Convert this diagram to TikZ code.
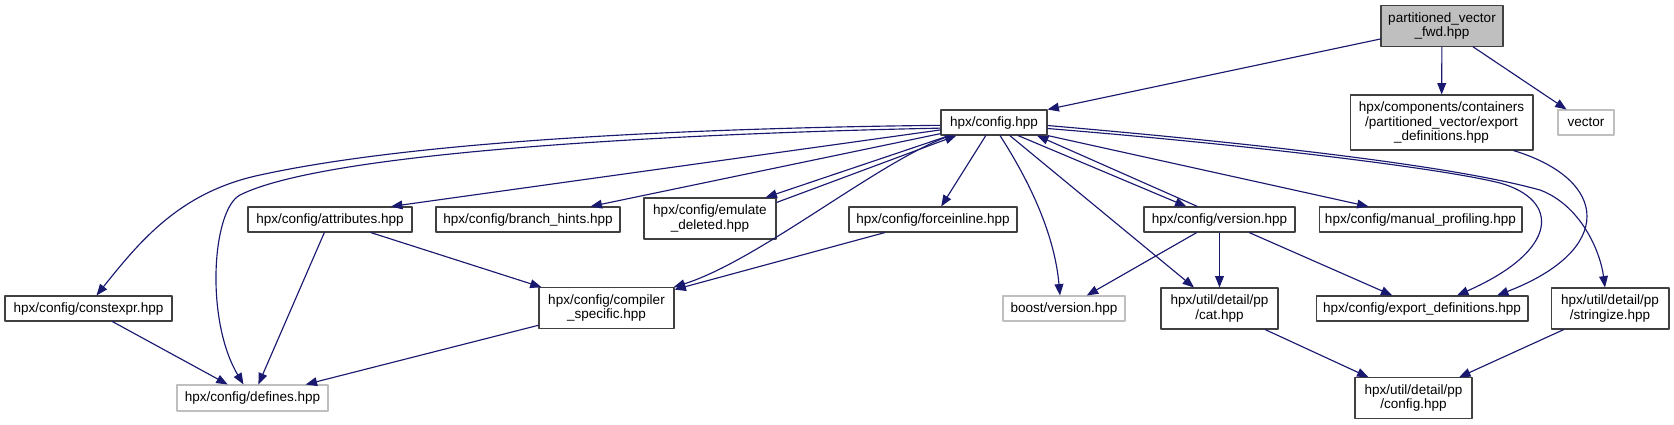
\documentclass[tikz,border=0pt]{standalone}
\usepackage{fontspec}
\setmainfont{Liberation Sans}
\usetikzlibrary{arrows.meta,calc}

\definecolor{edgeblue}{HTML}{191970}
\definecolor{boxline}{HTML}{404040}
\definecolor{sysline}{HTML}{BFBFBF}
\definecolor{rootfill}{HTML}{BFBFBF}

\begin{document}
\begin{tikzpicture}[x=0.02cm, y=-0.02cm, line join=round]

% ---------------- parameters ----------------
\def\oneH{0.50cm}    % one line box
\def\twoH{0.81cm}    % two line box
\def\threeH{1.10cm}  % three line box

% ---------------- styles ----------------
\tikzset{
  inc/.style   ={draw=boxline, line width=0.6pt, fill=white, inner sep=0pt,
                 align=center, font=\fontsize{7.7}{8.5}\selectfont,
                 minimum height=\oneH},
  sysinc/.style={inc, draw=sysline},
  root/.style  ={inc, fill=rootfill},
  dep/.style   ={draw=edgeblue, line width=0.65pt,
                 -{Triangle[length=6.5pt, width=5pt]}}
}

\useasboundingbox (0,0) rectangle (1674,424);

% ---------------- row 0/1 ----------------
\node[root, minimum width=2.44cm, minimum height=\twoH] (pvFwd) at (1442,26)
  {partitioned\_vector\\\_fwd.hpp};
\node[inc, minimum width=2.12cm] (cfg) at (994,122.5) {hpx/config.hpp};
\node[inc, minimum width=3.66cm, minimum height=\threeH] (compExport) at (1441.5,122.5)
  {hpx/components/containers\\/partitioned\_vector/export\\\_definitions.hpp};
\node[sysinc, minimum width=1.12cm] (vec) at (1586,122.5) {vector};

% ---------------- row 2 ----------------
\node[inc, minimum width=3.28cm] (attrib)      at (330,219.5)  {hpx/config/attributes.hpp};
\node[inc, minimum width=3.68cm] (branchHints) at (528,219.5)  {hpx/config/branch\_hints.hpp};
\node[inc, minimum width=2.64cm, minimum height=0.82cm] (emulDel) at (710,218.5)
  {hpx/config/emulate\\\_deleted.hpp};
\node[inc, minimum width=3.36cm] (forceInl)    at (933,219.5)  {hpx/config/forceinline.hpp};
\node[inc, minimum width=3.02cm] (cfgVersion)  at (1219.5,219.5) {hpx/config/version.hpp};
\node[inc, minimum width=4.06cm] (manProf)     at (1420.5,219.5) {hpx/config/manual\_profiling.hpp};

% ---------------- row 3 ----------------
\node[inc, minimum width=3.34cm] (constExpr) at (88.5,308.5) {hpx/config/constexpr.hpp};
\node[inc, minimum width=2.70cm, minimum height=\twoH] (compSpec) at (606.5,308)
  {hpx/config/compiler\\\_specific.hpp};
\node[sysinc, minimum width=2.44cm] (boostVer) at (1064,308.5) {boost/version.hpp};
\node[inc, minimum width=2.34cm, minimum height=0.82cm] (ppCat) at (1219.5,308.5)
  {hpx/util/detail/pp\\/cat.hpp};
\node[inc, minimum width=4.24cm] (exportDefs) at (1422,308.5) {hpx/config/export\_definitions.hpp};
\node[inc, minimum width=2.36cm, minimum height=0.82cm] (ppStringize) at (1610,308.5)
  {hpx/util/detail/pp\\/stringize.hpp};

% ---------------- row 4 ----------------
\node[sysinc, minimum width=3.02cm, minimum height=0.52cm] (cfgDefines) at (252.5,398)
  {hpx/config/defines.hpp};
\node[inc, minimum width=2.34cm, minimum height=\twoH] (ppConfig) at (1413.5,398)
  {hpx/util/detail/pp\\/config.hpp};

% ---------------- edges from the root ----------------
\draw[dep] (pvFwd) -- (cfg.north east);
\draw[dep] (pvFwd) -- (compExport);
\draw[dep] (pvFwd) -- (vec);

% ---------------- edges from hpx/config.hpp ----------------
\draw[dep] (cfg.183) .. controls (700,128) and (420,140) .. (260,175)
  .. controls (180,192) and (140,241) .. ($(constExpr.north)+(8,0)$);
\draw[dep] (cfg.186) .. controls (700,133) and (330,150) .. (240,195)
  .. controls (212,210) and (205,320) .. ($(cfgDefines.north)+(-9,0)$);
\draw[dep] (cfg) -- ($(attrib.north)+(61,0)$);
\draw[dep] (cfg) -- (branchHints);
\draw[dep] ($(cfg.south west)+(9,0)$) -- ($(emulDel.north east)+(-11,0)$);
\draw[dep] ($(emulDel.north east)+(0,5)$) -- ($(cfg.south west)+(16,0)$);
\draw[dep] ($(cfg.south west)+(10,0)$) .. controls (880,160) and (760,260)
  .. ($(compSpec.north east)+(-1,0)$);
\draw[dep] (cfg) -- (forceInl);
\draw[dep] ($(cfg.south)+(6,0)$) .. controls (1035,190) and (1055,240)
  .. ($(boostVer.north)+(-4,0)$);
\draw[dep] (cfg) -- (ppCat);
\draw[dep] ($(cfg.south)+(24,0)$) -- ($(cfgVersion.north)+(-33,0)$);
\draw[dep] ($(cfgVersion.north)+(-22,0)$) -- ($(cfg.south)+(43,0)$);
\draw[dep] (cfg.south east) -- ($(manProf.north)+(-52,0)$);
\draw[dep] ($(cfg.east)+(0,6)$) .. controls (1250,145) and (1440,168) .. (1500,183)
  .. controls (1560,200) and (1560,250) .. ($(exportDefs.north)+(35,0)$);
\draw[dep] ($(cfg.east)+(0,3)$) .. controls (1250,143) and (1450,165) .. (1540,190)
  .. controls (1580,205) and (1600,250) .. ($(ppStringize.north)+(-5,0)$);

% ---------------- remaining edges ----------------
\draw[dep] (attrib) -- (compSpec);
\draw[dep] (forceInl) -- (compSpec);
\draw[dep] (attrib) -- (cfgDefines);
\draw[dep] (constExpr) -- (cfgDefines);
\draw[dep] (compSpec) -- (cfgDefines);
\draw[dep] ($(compExport.south east)+(-20,0)$) .. controls (1610,180) and (1615,250)
  .. ($(exportDefs.north)+(75,0)$);
\draw[dep] (cfgVersion) -- (boostVer);
\draw[dep] (cfgVersion) -- (ppCat);
\draw[dep] (cfgVersion) -- (exportDefs);
\draw[dep] (ppCat) -- (ppConfig);
\draw[dep] (ppStringize) -- (ppConfig);

\end{tikzpicture}
\end{document}
